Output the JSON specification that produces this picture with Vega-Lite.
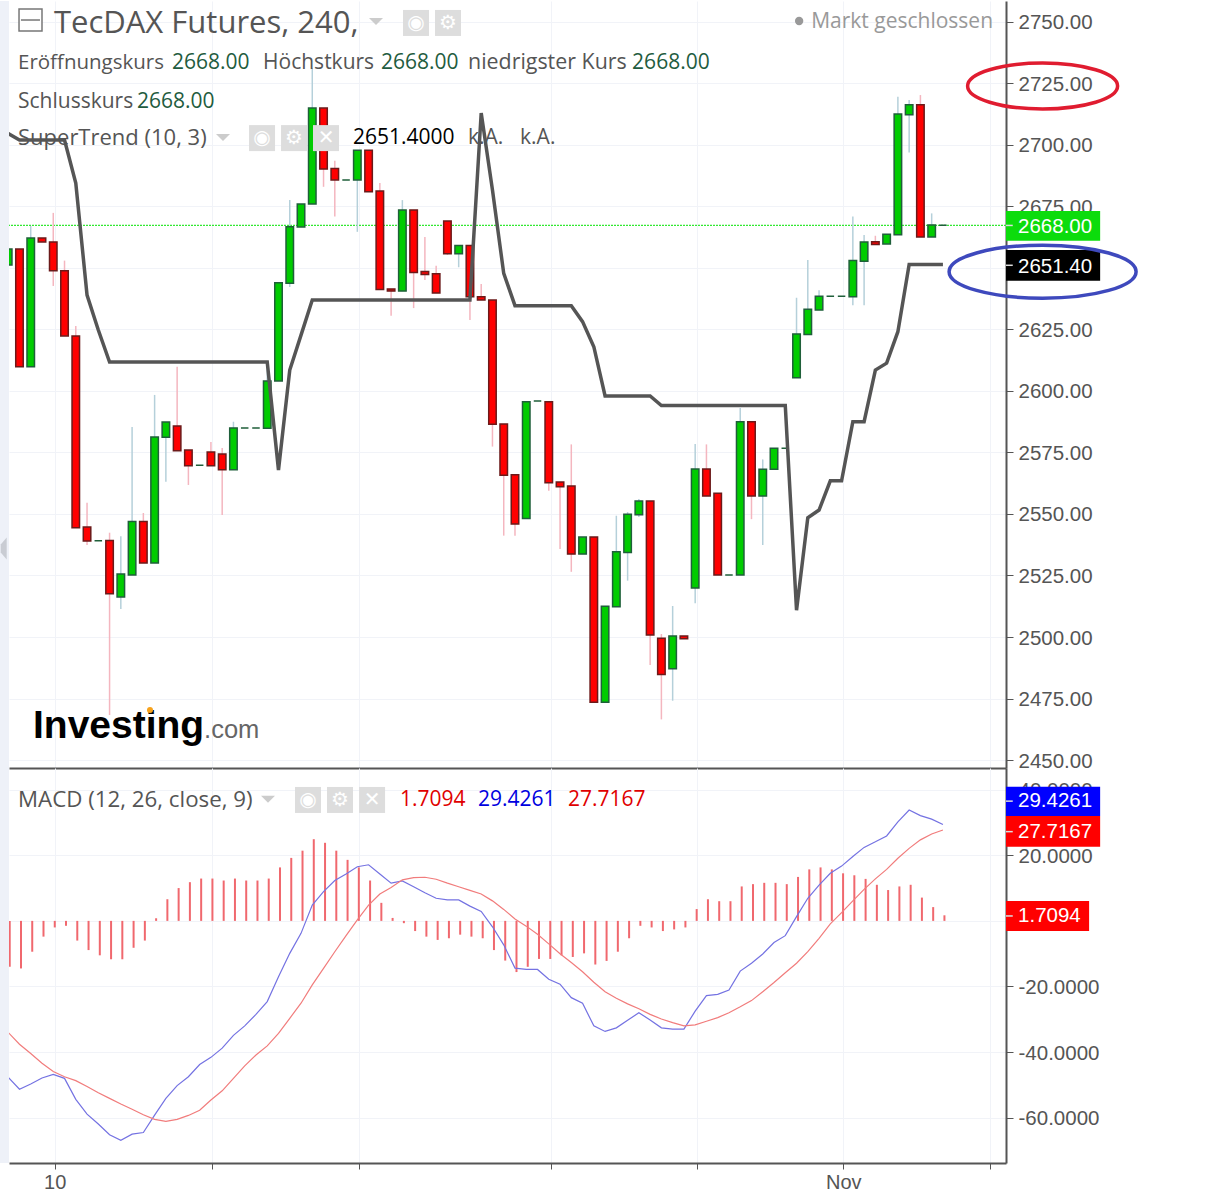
{
  "$schema": "https://vega.github.io/schema/vega-lite/v6.json",
  "description": "TecDAX Futures 240 candles with SuperTrend and MACD",
  "background": "white",
  "padding": {"left": -2, "top": 1, "right": 0, "bottom": 0},
  "spacing": 0,
  "bounds": "flush",
  "config": {
    "view": {"stroke": null},
    "text": {"align": "left", "baseline": "middle", "font": "Open Sans"},
    "axis": {"gridColor": "#f1f3f8", "domainColor": "#555555", "domainWidth": 2, "tickColor": "#555555", "labelColor": "#555555", "labelFont": "Liberation Sans", "labelFontSize": 20.5, "labelBound": false, "labelFlush": false, "labelOverlap": false, "title": null}
  },
  "datasets": {
    "bars": [
      {"i":0,"dir":"up","o":2651.2,"c":2657.7,"h":2657.7,"l":2651.2,"st":2704.7,"hist":-14.0,"macd":-47.7,"signal":-34.0},
      {"i":1,"dir":"down","o":2657.7,"c":2609.9,"h":2657.7,"l":2609.9,"st":2702.0,"hist":-14.5,"macd":-51.3,"signal":-37.6},
      {"i":2,"dir":"up","o":2609.9,"c":2662.2,"h":2667.1,"l":2609.9,"st":2702.0,"hist":-9.4,"macd":-49.7,"signal":-40.4},
      {"i":3,"dir":"down","o":2662.2,"c":2660.6,"h":2662.2,"l":2660.6,"st":2702.0,"hist":-4.8,"macd":-47.9,"signal":-43.4},
      {"i":4,"dir":"down","o":2660.6,"c":2648.9,"h":2672.4,"l":2642.7,"st":2702.0,"hist":-2.0,"macd":-46.8,"signal":-45.9},
      {"i":5,"dir":"down","o":2648.9,"c":2622.4,"h":2653.0,"l":2622.4,"st":2702.0,"hist":-1.5,"macd":-48.0,"signal":-47.5},
      {"i":6,"dir":"down","o":2622.4,"c":2544.4,"h":2626.4,"l":2544.4,"st":2684.5,"hist":-6.0,"macd":-54.4,"signal":-48.7},
      {"i":7,"dir":"down","o":2544.7,"c":2539.0,"h":2554.6,"l":2537.4,"st":2639.0,"hist":-8.9,"macd":-58.9,"signal":-50.5},
      {"i":8,"dir":"up","o":2539.1,"c":2539.1,"h":2539.1,"l":2539.1,"st":2624.8,"hist":-10.5,"macd":-61.9,"signal":-52.4},
      {"i":9,"dir":"down","o":2539.2,"c":2517.6,"h":2542.4,"l":2468.3,"st":2611.8,"hist":-11.7,"macd":-65.2,"signal":-54.1},
      {"i":10,"dir":"up","o":2516.3,"c":2525.6,"h":2541.0,"l":2511.4,"st":2611.8,"hist":-11.7,"macd":-66.9,"signal":-55.8},
      {"i":11,"dir":"up","o":2525.2,"c":2546.9,"h":2585.4,"l":2525.2,"st":2611.8,"hist":-8.2,"macd":-65.0,"signal":-57.4},
      {"i":12,"dir":"down","o":2546.9,"c":2530.1,"h":2550.4,"l":2530.1,"st":2611.8,"hist":-6.0,"macd":-64.5,"signal":-59.1},
      {"i":13,"dir":"up","o":2530.1,"c":2581.3,"h":2598.4,"l":2530.1,"st":2611.8,"hist":0.8,"macd":-59.2,"signal":-60.5},
      {"i":14,"dir":"up","o":2581.2,"c":2587.4,"h":2587.4,"l":2563.1,"st":2611.8,"hist":6.6,"macd":-54.1,"signal":-61.1},
      {"i":15,"dir":"down","o":2585.8,"c":2575.7,"h":2609.9,"l":2575.7,"st":2611.8,"hist":10.0,"macd":-50.2,"signal":-60.5},
      {"i":16,"dir":"down","o":2576.0,"c":2569.6,"h":2576.0,"l":2561.8,"st":2611.8,"hist":11.8,"macd":-47.5,"signal":-59.3},
      {"i":17,"dir":"up","o":2569.8,"c":2569.8,"h":2569.8,"l":2569.8,"st":2611.8,"hist":12.9,"macd":-43.8,"signal":-57.7},
      {"i":18,"dir":"down","o":2575.2,"c":2569.6,"h":2579.3,"l":2569.6,"st":2611.8,"hist":12.9,"macd":-41.6,"signal":-54.6},
      {"i":19,"dir":"down","o":2574.4,"c":2568.0,"h":2576.8,"l":2549.6,"st":2611.8,"hist":12.3,"macd":-38.8,"signal":-51.8},
      {"i":20,"dir":"up","o":2568.0,"c":2585.0,"h":2587.5,"l":2568.0,"st":2611.8,"hist":12.9,"macd":-34.9,"signal":-48.0},
      {"i":21,"dir":"up","o":2585.0,"c":2585.0,"h":2585.0,"l":2585.0,"st":2611.8,"hist":12.3,"macd":-32.0,"signal":-44.2},
      {"i":22,"dir":"up","o":2585.0,"c":2585.0,"h":2585.0,"l":2585.0,"st":2611.8,"hist":12.3,"macd":-28.5,"signal":-40.9},
      {"i":23,"dir":"up","o":2584.9,"c":2604.1,"h":2610.6,"l":2584.9,"st":2611.8,"hist":12.9,"macd":-24.6,"signal":-38.1},
      {"i":24,"dir":"up","o":2604.1,"c":2644.0,"h":2644.0,"l":2604.1,"st":2567.9,"hist":16.3,"macd":-17.0,"signal":-34.3},
      {"i":25,"dir":"up","o":2643.8,"c":2666.8,"h":2677.6,"l":2642.3,"st":2608.5,"hist":19.2,"macd":-9.9,"signal":-29.7},
      {"i":26,"dir":"up","o":2666.7,"c":2676.0,"h":2676.0,"l":2666.7,"st":2622.7,"hist":21.4,"macd":-3.8,"signal":-25.1},
      {"i":27,"dir":"up","o":2676.0,"c":2715.0,"h":2731.3,"l":2676.0,"st":2637.0,"hist":24.9,"macd":4.8,"signal":-19.5},
      {"i":28,"dir":"down","o":2715.0,"c":2690.2,"h":2715.0,"l":2683.0,"st":2637.0,"hist":23.8,"macd":8.9,"signal":-14.5},
      {"i":29,"dir":"down","o":2690.4,"c":2685.8,"h":2693.6,"l":2670.9,"st":2637.0,"hist":21.4,"macd":12.3,"signal":-9.4},
      {"i":30,"dir":"up","o":2685.8,"c":2685.8,"h":2685.8,"l":2685.8,"st":2637.0,"hist":18.6,"macd":14.3,"signal":-4.5},
      {"i":31,"dir":"up","o":2685.8,"c":2697.9,"h":2697.9,"l":2664.7,"st":2637.0,"hist":16.3,"macd":16.5,"signal":0.3},
      {"i":32,"dir":"down","o":2697.9,"c":2681.0,"h":2697.9,"l":2681.0,"st":2637.0,"hist":12.3,"macd":17.1,"signal":4.8},
      {"i":33,"dir":"down","o":2681.3,"c":2641.3,"h":2684.5,"l":2641.3,"st":2637.0,"hist":5.5,"macd":14.3,"signal":8.2},
      {"i":34,"dir":"down","o":2641.5,"c":2640.6,"h":2641.5,"l":2630.6,"st":2637.0,"hist":0.9,"macd":11.5,"signal":10.2},
      {"i":35,"dir":"up","o":2640.6,"c":2673.6,"h":2677.6,"l":2640.6,"st":2637.0,"hist":-0.7,"macd":12.2,"signal":12.5},
      {"i":36,"dir":"down","o":2673.6,"c":2648.2,"h":2673.6,"l":2633.7,"st":2637.0,"hist":-3.1,"macd":10.4,"signal":13.2},
      {"i":37,"dir":"down","o":2648.6,"c":2647.4,"h":2662.6,"l":2645.1,"st":2637.0,"hist":-4.8,"macd":8.6,"signal":13.3},
      {"i":38,"dir":"down","o":2647.7,"c":2639.8,"h":2650.9,"l":2639.8,"st":2637.0,"hist":-5.8,"macd":6.9,"signal":12.7},
      {"i":39,"dir":"down","o":2669.1,"c":2655.8,"h":2669.1,"l":2655.3,"st":2637.0,"hist":-5.3,"macd":6.4,"signal":11.5},
      {"i":40,"dir":"up","o":2655.8,"c":2659.1,"h":2659.1,"l":2650.3,"st":2637.0,"hist":-4.2,"macd":6.4,"signal":10.4},
      {"i":41,"dir":"down","o":2659.1,"c":2638.3,"h":2659.1,"l":2628.9,"st":2637.0,"hist":-4.8,"macd":4.5,"signal":9.3},
      {"i":42,"dir":"down","o":2638.3,"c":2637.0,"h":2643.5,"l":2637.0,"st":2713.0,"hist":-5.3,"macd":2.9,"signal":8.2},
      {"i":43,"dir":"down","o":2637.0,"c":2586.5,"h":2637.0,"l":2577.4,"st":2681.7,"hist":-8.9,"macd":-1.8,"signal":6.1},
      {"i":44,"dir":"down","o":2586.6,"c":2565.7,"h":2586.6,"l":2541.2,"st":2647.8,"hist":-12.1,"macd":-7.3,"signal":3.5},
      {"i":45,"dir":"down","o":2566.0,"c":2545.9,"h":2566.0,"l":2541.2,"st":2634.7,"hist":-15.6,"macd":-14.4,"signal":0.6},
      {"i":46,"dir":"up","o":2548.2,"c":2595.6,"h":2595.6,"l":2548.2,"st":2634.7,"hist":-14.0,"macd":-14.8,"signal":-1.6},
      {"i":47,"dir":"up","o":2595.9,"c":2595.9,"h":2595.9,"l":2595.9,"st":2634.7,"hist":-11.6,"macd":-14.8,"signal":-4.1},
      {"i":48,"dir":"down","o":2595.6,"c":2562.7,"h":2595.6,"l":2559.5,"st":2634.7,"hist":-11.6,"macd":-17.8,"signal":-7.0},
      {"i":49,"dir":"down","o":2563.0,"c":2561.1,"h":2563.0,"l":2535.8,"st":2634.7,"hist":-10.5,"macd":-19.3,"signal":-10.0},
      {"i":50,"dir":"down","o":2561.4,"c":2533.7,"h":2578.3,"l":2526.5,"st":2634.7,"hist":-11.0,"macd":-23.4,"signal":-12.7},
      {"i":51,"dir":"up","o":2533.7,"c":2540.6,"h":2540.6,"l":2533.7,"st":2628.2,"hist":-9.9,"macd":-25.1,"signal":-15.5},
      {"i":52,"dir":"down","o":2540.6,"c":2473.5,"h":2540.6,"l":2473.5,"st":2618.0,"hist":-13.3,"macd":-32.0,"signal":-18.7},
      {"i":53,"dir":"up","o":2473.5,"c":2512.5,"h":2512.5,"l":2473.5,"st":2598.0,"hist":-12.2,"macd":-33.7,"signal":-21.6},
      {"i":54,"dir":"up","o":2512.3,"c":2534.7,"h":2549.3,"l":2512.3,"st":2598.0,"hist":-9.4,"macd":-32.6,"signal":-23.6},
      {"i":55,"dir":"up","o":2534.4,"c":2549.9,"h":2550.8,"l":2522.9,"st":2598.0,"hist":-5.3,"macd":-30.3,"signal":-25.3},
      {"i":56,"dir":"up","o":2549.7,"c":2555.3,"h":2556.1,"l":2548.8,"st":2598.0,"hist":-1.5,"macd":-28.0,"signal":-26.8},
      {"i":57,"dir":"down","o":2555.3,"c":2500.8,"h":2555.3,"l":2488.6,"st":2598.0,"hist":-2.0,"macd":-30.2,"signal":-28.5},
      {"i":58,"dir":"down","o":2499.5,"c":2484.8,"h":2501.2,"l":2466.5,"st":2594.1,"hist":-3.1,"macd":-32.6,"signal":-29.9},
      {"i":59,"dir":"up","o":2487.1,"c":2500.4,"h":2512.6,"l":2474.1,"st":2594.1,"hist":-2.6,"macd":-33.0,"signal":-31.0},
      {"i":60,"dir":"down","o":2500.4,"c":2499.3,"h":2500.4,"l":2499.3,"st":2594.1,"hist":-2.0,"macd":-33.0,"signal":-32.0},
      {"i":61,"dir":"up","o":2519.9,"c":2568.3,"h":2578.5,"l":2513.7,"st":2594.1,"hist":3.6,"macd":-27.5,"signal":-31.7},
      {"i":62,"dir":"down","o":2568.3,"c":2557.3,"h":2578.3,"l":2557.3,"st":2594.1,"hist":6.6,"macd":-22.8,"signal":-30.6},
      {"i":63,"dir":"down","o":2558.4,"c":2525.2,"h":2558.4,"l":2525.2,"st":2594.1,"hist":6.0,"macd":-22.4,"signal":-29.5},
      {"i":64,"dir":"up","o":2525.2,"c":2525.2,"h":2525.2,"l":2525.2,"st":2594.1,"hist":6.0,"macd":-21.1,"signal":-28.0},
      {"i":65,"dir":"up","o":2525.2,"c":2587.5,"h":2593.1,"l":2525.2,"st":2594.1,"hist":10.5,"macd":-15.3,"signal":-26.2},
      {"i":66,"dir":"down","o":2587.5,"c":2557.3,"h":2587.5,"l":2547.9,"st":2594.1,"hist":11.2,"macd":-12.9,"signal":-24.3},
      {"i":67,"dir":"up","o":2557.3,"c":2568.2,"h":2572.2,"l":2537.4,"st":2594.1,"hist":11.6,"macd":-10.1,"signal":-21.6},
      {"i":68,"dir":"up","o":2568.2,"c":2576.7,"h":2576.7,"l":2568.2,"st":2594.1,"hist":11.6,"macd":-6.6,"signal":-18.8},
      {"i":69,"dir":"up","o":2576.7,"c":2576.7,"h":2576.7,"l":2576.7,"st":2594.1,"hist":11.2,"macd":-4.5,"signal":-15.8},
      {"i":70,"dir":"up","o":2605.4,"c":2623.2,"h":2637.9,"l":2605.4,"st":2510.9,"hist":13.4,"macd":1.3,"signal":-12.9},
      {"i":71,"dir":"up","o":2623.0,"c":2633.2,"h":2653.2,"l":2623.0,"st":2548.5,"hist":15.7,"macd":6.9,"signal":-9.4},
      {"i":72,"dir":"up","o":2632.9,"c":2638.5,"h":2641.0,"l":2632.9,"st":2551.6,"hist":16.3,"macd":10.9,"signal":-5.3},
      {"i":73,"dir":"up","o":2638.5,"c":2638.5,"h":2638.5,"l":2638.5,"st":2563.5,"hist":15.7,"macd":14.5,"signal":-0.9},
      {"i":74,"dir":"up","o":2638.5,"c":2638.5,"h":2638.5,"l":2638.5,"st":2563.5,"hist":14.5,"macd":16.7,"signal":2.5},
      {"i":75,"dir":"up","o":2638.3,"c":2653.0,"h":2670.9,"l":2634.9,"st":2587.5,"hist":13.9,"macd":19.6,"signal":6.1},
      {"i":76,"dir":"up","o":2652.7,"c":2660.6,"h":2663.4,"l":2634.9,"st":2587.5,"hist":12.8,"macd":22.4,"signal":9.6},
      {"i":77,"dir":"down","o":2660.7,"c":2659.5,"h":2663.1,"l":2659.5,"st":2608.5,"hist":11.0,"macd":24.1,"signal":12.8},
      {"i":78,"dir":"up","o":2659.8,"c":2663.7,"h":2663.7,"l":2659.8,"st":2611.3,"hist":9.4,"macd":25.9,"signal":15.7},
      {"i":79,"dir":"up","o":2663.5,"c":2712.6,"h":2719.6,"l":2663.5,"st":2624.1,"hist":10.5,"macd":30.2,"signal":19.1},
      {"i":80,"dir":"up","o":2712.3,"c":2716.4,"h":2718.3,"l":2696.9,"st":2651.4,"hist":11.0,"macd":33.8,"signal":22.1},
      {"i":81,"dir":"down","o":2716.4,"c":2662.6,"h":2720.3,"l":2662.6,"st":2651.4,"hist":7.1,"macd":32.1,"signal":24.7},
      {"i":82,"dir":"up","o":2662.6,"c":2667.5,"h":2672.2,"l":2662.6,"st":2651.4,"hist":4.2,"macd":31.0,"signal":26.5},
      {"i":83,"dir":"up","o":2667.4,"c":2667.4,"h":2667.4,"l":2667.4,"st":2651.4,"hist":1.7,"macd":29.4,"signal":27.7}
    ]
  },
  "vconcat": [
    {
      "width": 997,
      "height": 767,
      "data": {"values": [{}]},
      "layer": [
        {"mark": {"type": "rect", "color": "#eef1f8"}, "encoding": {"x": {"datum": -0.82}, "x2": {"datum": 0.07}, "y": {"datum": 2758.53}, "y2": {"datum": 2446.75}}},
        {"mark": {"type": "point", "shape": "M3,-11L3,11L-3,4L-3,-4Z", "size": 4, "filled": true, "color": "#c9ccd3", "opacity": 1}, "encoding": {"x": {"datum": -0.4}, "y": {"datum": 2536}}},
        {"mark": {"type": "rule", "color": "#33e833", "strokeDash": [2, 1], "strokeWidth": 1.2}, "encoding": {"y": {"datum": 2667.3}}},
        {
          "data": {"name": "bars"},
          "mark": {"type": "rule", "strokeWidth": 1.5, "clip": true},
          "encoding": {
            "x": {"field": "i", "type": "quantitative", "scale": {"domain": [0.07, 88.6], "nice": false, "zero": false, "padding": 0},
              "axis": {"values": [4.13, 18.13, 31.15, 48.2, 61.15, 74.15, 87.2], "labels": false, "ticks": false, "grid": true}},
            "y": {"field": "h", "type": "quantitative", "scale": {"domain": [2446.75, 2758.53], "nice": false, "zero": false},
              "axis": {"orient": "right", "values": [2450, 2475, 2500, 2525, 2550, 2575, 2600, 2625, 2650, 2675, 2700, 2725, 2750], "format": ".2f", "tickSize": 7, "labelPadding": 5, "labelOffset": 1, "grid": true}},
            "y2": {"field": "l"},
            "color": {"field": "dir", "type": "nominal", "legend": null, "scale": {"domain": ["up", "down"], "range": ["#b5d0da", "#f4b6bf"]}}
          }
        },
        {
          "data": {"name": "bars"},
          "mark": {"type": "bar", "size": 7.5, "strokeWidth": 1.5, "clip": true},
          "encoding": {
            "x": {"field": "i", "type": "quantitative"},
            "y": {"field": "o", "type": "quantitative"},
            "y2": {"field": "c"},
            "fill": {"field": "dir", "type": "nominal", "legend": null, "scale": {"domain": ["up", "down"], "range": ["#00cc00", "#ff0000"]}},
            "stroke": {"field": "dir", "type": "nominal", "legend": null, "scale": {"domain": ["up", "down"], "range": ["#1f5f3a", "#6b1a1a"]}}
          }
        },
        {
          "data": {"name": "bars"},
          "mark": {"type": "line", "color": "#555555", "strokeWidth": 3.5, "clip": true},
          "encoding": {"x": {"field": "i", "type": "quantitative"}, "y": {"field": "st", "type": "quantitative"}}
        },
        {"mark": {"type": "rect", "fill": "white", "stroke": "#777777", "strokeWidth": 1.5}, "encoding": {"x": {"datum": 0.96}, "x2": {"datum": 3.0}, "y": {"datum": 2755.28}, "y2": {"datum": 2746.34}}},
        {"mark": {"type": "rule", "color": "#777777", "strokeWidth": 1.5}, "encoding": {"x": {"datum": 1.13}, "x2": {"datum": 2.82}, "y": {"datum": 2750.8}}},
        {
          "data": {"values": [
            {"glyph": "◉", "bar": 36.21, "price": 2749.6},
            {"glyph": "⚙", "bar": 39.05, "price": 2749.6},
            {"glyph": "◉", "bar": 22.54, "price": 2702.8},
            {"glyph": "⚙", "bar": 25.38, "price": 2702.8},
            {"glyph": "✕", "bar": 28.22, "price": 2702.8}
          ]},
          "layer": [
            {"mark": {"type": "point", "shape": "square", "size": 676, "filled": true, "color": "#dddddd", "opacity": 1}, "encoding": {"x": {"field": "bar", "type": "quantitative"}, "y": {"field": "price", "type": "quantitative"}}},
            {"mark": {"type": "text", "align": "center", "font": "DejaVu Sans", "fontSize": 20, "color": "white"}, "encoding": {"x": {"field": "bar", "type": "quantitative"}, "y": {"field": "price", "type": "quantitative"}, "text": {"field": "glyph"}}}
          ]
        },
        {"mark": {"type": "point", "shape": "M-7,-3L7,-3L0,4Z", "size": 4, "filled": true, "color": "#cccccc", "opacity": 1}, "encoding": {"x": {"datum": 32.66}, "y": {"datum": 2750.4}}},
        {"mark": {"type": "point", "shape": "M-7,-3L7,-3L0,4Z", "size": 4, "filled": true, "color": "#cccccc", "opacity": 1}, "encoding": {"x": {"datum": 19.07}, "y": {"datum": 2703.2}}},
        {"mark": {"type": "point", "shape": "circle", "size": 70, "filled": true, "color": "#999999", "opacity": 1}, "encoding": {"x": {"datum": 70.23}, "y": {"datum": 2750.4}}},
        {"mark": {"type": "text", "fontSize": 31, "color": "#555555"}, "encoding": {"x": {"datum": 4.06}, "y": {"datum": 2749.2}, "text": {"value": "TecDAX Futures, 240,"}}},
        {"mark": {"type": "text", "fontSize": 21, "color": "#999999"}, "encoding": {"x": {"datum": 71.3}, "y": {"datum": 2750}, "text": {"value": "Markt geschlossen"}}},
        {"mark": {"type": "text", "fontSize": 20.5, "color": "#555555"}, "encoding": {"x": {"datum": 0.87}, "y": {"datum": 2733.3}, "text": {"value": "Eröffnungskurs"}}},
        {"mark": {"type": "text", "fontSize": 21, "color": "#1f5c40"}, "encoding": {"x": {"datum": 14.54}, "y": {"datum": 2733.3}, "text": {"value": "2668.00"}}},
        {"mark": {"type": "text", "fontSize": 21, "color": "#555555"}, "encoding": {"x": {"datum": 22.63}, "y": {"datum": 2733.3}, "text": {"value": "Höchstkurs"}}},
        {"mark": {"type": "text", "fontSize": 21, "color": "#1f5c40"}, "encoding": {"x": {"datum": 33.1}, "y": {"datum": 2733.3}, "text": {"value": "2668.00"}}},
        {"mark": {"type": "text", "fontSize": 21.4, "color": "#555555"}, "encoding": {"x": {"datum": 40.83}, "y": {"datum": 2733.3}, "text": {"value": "niedrigster Kurs"}}},
        {"mark": {"type": "text", "fontSize": 21, "color": "#1f5c40"}, "encoding": {"x": {"datum": 55.4}, "y": {"datum": 2733.3}, "text": {"value": "2668.00"}}},
        {"mark": {"type": "text", "fontSize": 21, "color": "#555555"}, "encoding": {"x": {"datum": 0.87}, "y": {"datum": 2717.5}, "text": {"value": "Schlusskurs"}}},
        {"mark": {"type": "text", "fontSize": 21, "color": "#1f5c40"}, "encoding": {"x": {"datum": 11.44}, "y": {"datum": 2717.5}, "text": {"value": "2668.00"}}},
        {"mark": {"type": "text", "fontSize": 22, "color": "#555555"}, "encoding": {"x": {"datum": 0.87}, "y": {"datum": 2702.8}, "text": {"value": "SuperTrend (10, 3)"}}},
        {"mark": {"type": "text", "fontSize": 21, "color": "#000000"}, "encoding": {"x": {"datum": 30.62}, "y": {"datum": 2702.8}, "text": {"value": "2651.4000"}}},
        {"mark": {"type": "text", "fontSize": 21, "color": "#555555"}, "encoding": {"x": {"datum": 40.83}, "y": {"datum": 2702.8}, "text": {"value": "k.A."}}},
        {"mark": {"type": "text", "fontSize": 21, "color": "#555555"}, "encoding": {"x": {"datum": 45.45}, "y": {"datum": 2702.8}, "text": {"value": "k.A."}}},
        {"mark": {"type": "text", "baseline": "alphabetic", "font": "Liberation Sans", "fontWeight": "bold", "fontSize": 39, "color": "#000000"}, "encoding": {"x": {"datum": 2.2}, "y": {"datum": 2458.9}, "text": {"value": "Investing"}}},
        {"mark": {"type": "text", "baseline": "alphabetic", "font": "Liberation Sans", "fontSize": 25.5, "color": "#666666"}, "encoding": {"x": {"datum": 17.39}, "y": {"datum": 2458.9}, "text": {"value": ".com"}}},
        {"mark": {"type": "point", "shape": "circle", "size": 36, "filled": true, "color": "#f7a21b", "opacity": 1}, "encoding": {"x": {"datum": 12.59}, "y": {"datum": 2470.3}}},
        {"mark": {"type": "rect", "color": "#0cdc0c"}, "encoding": {"x": {"datum": 88.6}, "x2": {"datum": 96.96}, "y": {"datum": 2673.2}, "y2": {"datum": 2661.1}}},
        {"mark": {"type": "rect", "color": "#000000"}, "encoding": {"x": {"datum": 88.6}, "x2": {"datum": 96.96}, "y": {"datum": 2657.3}, "y2": {"datum": 2644.8}}},
        {
          "data": {"values": [
            {"label": "2668.00", "mid": 2666.8, "tick": 2667.3},
            {"label": "2651.40", "mid": 2650.6, "tick": 2651.1}
          ]},
          "layer": [
            {"mark": {"type": "rule", "color": "#dddddd", "strokeWidth": 1.5}, "encoding": {"x": {"datum": 88.6}, "x2": {"datum": 89.2}, "y": {"field": "tick", "type": "quantitative"}}},
            {"mark": {"type": "text", "font": "Liberation Sans", "fontSize": 20.5, "color": "white"}, "encoding": {"x": {"datum": 89.67}, "y": {"field": "mid", "type": "quantitative"}, "text": {"field": "label"}}}
          ]
        },
        {"mark": {"type": "point", "shape": "M-75,0C-75,-12.7 -41.4,-23 0,-23C41.4,-23 75,-12.7 75,0C75,12.7 41.4,23 0,23C-41.4,23 -75,12.7 -75,0Z", "size": 4, "filled": false, "stroke": "#e01c30", "strokeWidth": 3.5, "opacity": 1}, "encoding": {"x": {"datum": 91.85}, "y": {"datum": 2723.98}}},
        {"mark": {"type": "point", "shape": "M-93.5,0C-93.5,-14.6 -51.6,-26.5 0,-26.5C51.6,-26.5 93.5,-14.6 93.5,0C93.5,14.6 51.6,26.5 0,26.5C-51.6,26.5 -93.5,14.6 -93.5,0Z", "size": 4, "filled": false, "stroke": "#3e49bd", "strokeWidth": 3.5, "opacity": 1}, "encoding": {"x": {"datum": 91.85}, "y": {"datum": 2648.5}}}
      ]
    },
    {
      "width": 997,
      "height": 395,
      "data": {"values": [{}]},
      "layer": [
        {"mark": {"type": "rect", "color": "#eef1f8"}, "encoding": {"x": {"datum": -0.82}, "x2": {"datum": 0.07}, "y": {"datum": 46.6}, "y2": {"datum": -73.8}}},
        {
          "data": {"name": "bars"},
          "mark": {"type": "rule", "color": "#f0686e", "strokeWidth": 2, "xOffset": 1.5, "clip": true},
          "encoding": {
            "x": {"field": "i", "type": "quantitative", "scale": {"domain": [0.07, 88.6], "nice": false, "zero": false, "padding": 0},
              "axis": {"values": [4.13, 18.13, 31.15, 48.2, 61.15, 74.15, 87.2], "labelExpr": "datum.value == 4.13 ? '10' : datum.value == 74.15 ? 'Nov' : ''", "tickSize": 6, "labelPadding": 3, "labelFontSize": 20, "grid": true}},
            "y": {"field": "hist", "type": "quantitative", "scale": {"domain": [-73.8, 46.6], "nice": false, "zero": false},
              "axis": {"orient": "right", "values": [40, 20, 0, -20, -40, -60], "labelExpr": "replace(format(datum.value, '.4f'), '−', '-')", "tickSize": 7, "labelPadding": 5, "labelOffset": 1, "grid": true}},
            "y2": {"datum": 0}
          }
        },
        {
          "data": {"name": "bars"},
          "mark": {"type": "line", "color": "#7472e2", "strokeWidth": 1.2, "clip": true},
          "encoding": {"x": {"field": "i", "type": "quantitative"}, "y": {"field": "macd", "type": "quantitative"}}
        },
        {
          "data": {"name": "bars"},
          "mark": {"type": "line", "color": "#f17c7c", "strokeWidth": 1.2, "clip": true},
          "encoding": {"x": {"field": "i", "type": "quantitative"}, "y": {"field": "signal", "type": "quantitative"}}
        },
        {
          "data": {"values": [
            {"glyph": "◉", "bar": 26.62, "macdLevel": 36.86},
            {"glyph": "⚙", "bar": 29.46, "macdLevel": 36.86},
            {"glyph": "✕", "bar": 32.31, "macdLevel": 36.86}
          ]},
          "layer": [
            {"mark": {"type": "point", "shape": "square", "size": 676, "filled": true, "color": "#dddddd", "opacity": 1}, "encoding": {"x": {"field": "bar", "type": "quantitative"}, "y": {"field": "macdLevel", "type": "quantitative"}}},
            {"mark": {"type": "text", "align": "center", "font": "DejaVu Sans", "fontSize": 20, "color": "white"}, "encoding": {"x": {"field": "bar", "type": "quantitative"}, "y": {"field": "macdLevel", "type": "quantitative"}, "text": {"field": "glyph"}}}
          ]
        },
        {"mark": {"type": "point", "shape": "M-7,-3L7,-3L0,4Z", "size": 4, "filled": true, "color": "#cccccc", "opacity": 1}, "encoding": {"x": {"datum": 23.07}, "y": {"datum": 37.2}}},
        {"mark": {"type": "text", "fontSize": 22.3, "color": "#555555"}, "encoding": {"x": {"datum": 0.87}, "y": {"datum": 36.86}, "text": {"value": "MACD (12, 26, close, 9)"}}},
        {"mark": {"type": "text", "fontSize": 21, "color": "#e00000"}, "encoding": {"x": {"datum": 34.79}, "y": {"datum": 36.86}, "text": {"value": "1.7094"}}},
        {"mark": {"type": "text", "fontSize": 21, "color": "#0000e0"}, "encoding": {"x": {"datum": 41.72}, "y": {"datum": 36.86}, "text": {"value": "29.4261"}}},
        {"mark": {"type": "text", "fontSize": 21, "color": "#e00000"}, "encoding": {"x": {"datum": 49.71}, "y": {"datum": 36.86}, "text": {"value": "27.7167"}}},
        {"mark": {"type": "rect", "color": "#0000ff"}, "encoding": {"x": {"datum": 88.6}, "x2": {"datum": 96.96}, "y": {"datum": 40.9}, "y2": {"datum": 32.0}}},
        {"mark": {"type": "rect", "color": "#ff0000"}, "encoding": {"x": {"datum": 88.6}, "x2": {"datum": 96.96}, "y": {"datum": 32.0}, "y2": {"datum": 22.6}}},
        {"mark": {"type": "rect", "color": "#ff0000"}, "encoding": {"x": {"datum": 88.6}, "x2": {"datum": 95.98}, "y": {"datum": 6.07}, "y2": {"datum": -3.08}}},
        {
          "data": {"values": [
            {"label": "29.4261", "mid": 36.5},
            {"label": "27.7167", "mid": 27.2},
            {"label": "1.7094", "mid": 1.5}
          ]},
          "layer": [
            {"mark": {"type": "rule", "color": "#dddddd", "strokeWidth": 1.5}, "encoding": {"x": {"datum": 88.6}, "x2": {"datum": 89.2}, "y": {"field": "mid", "type": "quantitative"}}},
            {"mark": {"type": "text", "font": "Liberation Sans", "fontSize": 20.5, "color": "white"}, "encoding": {"x": {"datum": 89.67}, "y": {"field": "mid", "type": "quantitative"}, "text": {"field": "label"}}}
          ]
        }
      ]
    }
  ]
}
